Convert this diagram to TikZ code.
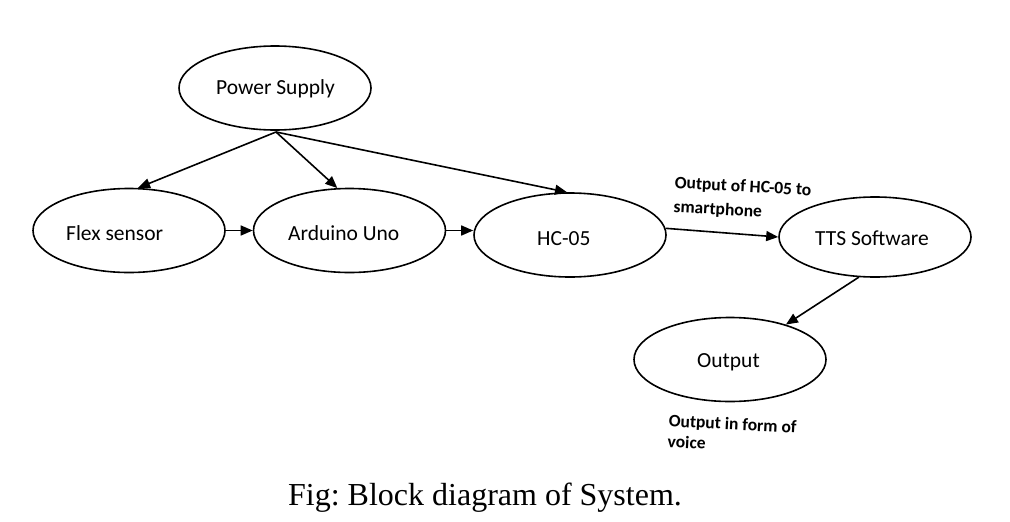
\documentclass[tikz,border=0pt]{standalone}
\usepackage{fontspec}
\setmainfont{Carlito}
\newfontfamily\capfont{Liberation Serif}
\usetikzlibrary{shapes.geometric,arrows.meta}
\frenchspacing
\tikzset{
  blk/.style={draw, ellipse, line width=1.6pt, minimum width=192pt, minimum height=84pt, inner sep=0pt},
  txt/.style={anchor=base west, inner sep=0pt, font=\fontsize{21.5}{24}\selectfont},
  lbl/.style={anchor=north west, inner sep=0pt, align=left, rotate=-3},
  conn/.style={line width=1.6pt, -{Triangle[length=12pt,width=10pt]}}
}
\begin{document}
\begin{tikzpicture}[x=1pt,y=-1pt]
\path[use as bounding box, fill=white] (0,0) rectangle (1010,522);
% ellipses
\node[blk] (ps) at (275,88) {};
\node[blk] (flex) at (129,230.5) {};
\node[blk] (ard) at (349.5,230.5) {};
\node[blk] (hc) at (570,235) {};
\node[blk, minimum height=80pt] (tts) at (875,237) {};
\node[blk] (out) at (730,359.5) {};
% texts
\node[txt] (tps) at (216,94) {Power Supply};
\node[txt] (tflex) at (66,240) {Flex sensor};
\node[txt] (tard) at (288,240) {Arduino Uno};
\node[txt] (thc) at (537,245) {HC-05};
\node[txt] (ttts) at (815,245) {TTS Software};
\node[txt] (tout) at (697,367) {Output};
% labels
\node[lbl, font=\bfseries\fontsize{17.5}{24}\selectfont] (la) at (675,176) {Output of HC-05 to\\smartphone};
\node[lbl, font=\bfseries\fontsize{17.5}{21}\selectfont] (lb) at (669,414) {Output in form of\\voice};
% caption
\node[anchor=base, inner sep=0pt, font=\capfont\fontsize{32}{36}\selectfont] (cap) at (485,505) {Fig: Block diagram of System.};
% connectors
\coordinate (src) at (276,132);
\draw[conn] (src) -- (flex.78);
\draw[conn] (src) -- (ard.106);
\draw[conn] (src) -- (hc.94);
\draw[conn] (flex) -- (ard);
\draw[conn] (ard.east) -- (ard.east -| hc.west);
\draw[conn] (hc.4) -- (tts.180);
\draw[conn] (tts.-112) -- (out.32);
\end{tikzpicture}
\end{document}
